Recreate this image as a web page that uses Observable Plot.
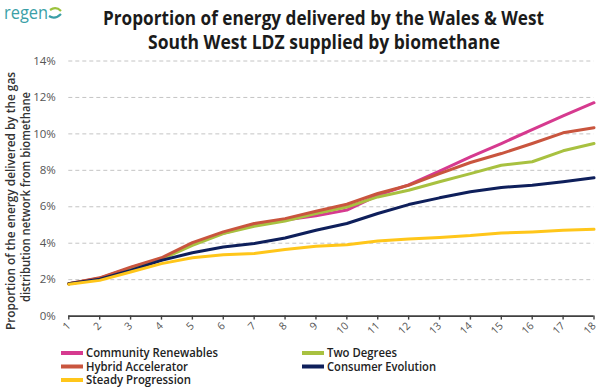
<!DOCTYPE html>
<html>
<head>
<meta charset="utf-8">
<script src="https://cdn.jsdelivr.net/npm/d3@7"></script>
<script src="https://cdn.jsdelivr.net/npm/@observablehq/plot@0.6"></script>
<style>
  html, body { margin: 0; padding: 0; background: #fff; }
  #wrap { position: relative; width: 611px; height: 388px; overflow: hidden; font-family: "Open Sans", sans-serif; }
  #wrap > svg { position: absolute; left: 0; top: 0; }
</style>
</head>
<body>
<div id="wrap"></div>
<script>
// ---- data ----
const years = [1,2,3,4,5,6,7,8,9,10,11,12,13,14,15,16,17,18];
const yTicks = [0,2,4,6,8,10,12,14];
const seriesNames = ["Community Renewables","Hybrid Accelerator","Steady Progression","Two Degrees","Consumer Evolution"];
const seriesColors = ["#d63a8f","#c9553e","#ffc61a","#a8c140","#0e1f5b"];
const communityRenewables = [1.78,2.08,2.65,3.15,3.98,4.55,5.00,5.28,5.50,5.82,6.63,7.20,7.95,8.74,9.47,10.24,10.99,11.71];
const hybridAccelerator   = [1.78,2.10,2.69,3.20,4.03,4.62,5.08,5.35,5.75,6.14,6.73,7.18,7.82,8.43,8.92,9.47,10.06,10.34];
const steadyProgression   = [1.75,1.96,2.42,2.88,3.20,3.37,3.43,3.66,3.83,3.92,4.12,4.23,4.32,4.42,4.56,4.62,4.71,4.76];
const twoDegrees          = [1.78,2.07,2.62,3.12,3.88,4.53,4.93,5.22,5.63,5.99,6.54,6.91,7.37,7.82,8.28,8.47,9.07,9.47];
const consumerEvolution   = [1.78,2.03,2.51,3.06,3.48,3.79,3.98,4.29,4.71,5.08,5.63,6.12,6.49,6.82,7.06,7.18,7.37,7.59];
const titleLines = ["Proportion of energy delivered by the Wales & West","South West LDZ supplied by biomethane"];
const yLabelLines = ["Proportion of the energy delivered by the gas","distribution network from biomethane"];

const seriesValues = [communityRenewables, hybridAccelerator, steadyProgression, twoDegrees, consumerEvolution];
const rows = (k) => seriesValues[k].map((v, i) => ({x: years[i], y: v, s: seriesNames[k]}));
const drawOrder = [0, 3, 1, 4, 2];

const chart = Plot.plot({
  width: 611,
  height: 388,
  marginTop: 60.5,
  marginBottom: 72.4,
  marginLeft: 68.3,
  marginRight: 17.5,
  style: {fontFamily: "'Open Sans', sans-serif", background: "transparent"},
  x: {domain: [1, 18], ticks: years},
  y: {domain: [0, 14], ticks: yTicks},
  marks: [
    Plot.gridY(yTicks.filter(d => d > 0), {stroke: "#c4c4c4", strokeOpacity: 1, strokeDasharray: "4,3", strokeWidth: 1}),
    Plot.axisY({ticks: yTicks, tickSize: 0, tickPadding: 13, tickFormat: d => d + "%", label: null, fontSize: 11.5, fill: "#555"}),
    Plot.ruleY([0], {stroke: "#404040", strokeWidth: 1.6}),
    Plot.axisX({ticks: years, tickSize: 4, tickRotate: -45, tickPadding: 4, tickFormat: d => String(d), label: null, fontSize: 10.5, fill: "#555", stroke: "#404040", strokeWidth: 1.4}),
    ...drawOrder.map(k => Plot.line(rows(k), {x: "x", y: "y", stroke: seriesColors[k], strokeWidth: 3, strokeLinejoin: "round", strokeLinecap: "round"}))
  ]
});
const wrap = document.getElementById("wrap");
wrap.appendChild(chart);

// ---- overlay: title, logo, y label, legend ----
const svg = d3.select(wrap).append("svg").attr("width", 611).attr("height", 388)
  .style("font-family", "'Open Sans', sans-serif").style("pointer-events", "none");

// logo
svg.append("text").attr("x", 4).attr("y", 19).attr("font-size", 18).attr("font-weight", 400)
  .attr("fill", "#3b9fa7").attr("textLength", 44).attr("lengthAdjust", "spacingAndGlyphs").text("regen");
svg.append("path").attr("d", "M50,10 q6,-4 11,1").attr("fill", "none").attr("stroke", "#9bc23c").attr("stroke-width", 2.2);
svg.append("path").attr("d", "M49,16 q6,4 12,-2").attr("fill", "none").attr("stroke", "#3b9fa7").attr("stroke-width", 2.2);

// title
const titlePos = [{x: 103, y: 25, w: 441}, {x: 148, y: 49, w: 352}];
titleLines.forEach((t, i) => {
  svg.append("text").attr("x", titlePos[i].x).attr("y", titlePos[i].y)
    .attr("font-size", 19).attr("font-weight", 700).attr("fill", "#1b1b1b")
    .attr("textLength", titlePos[i].w).attr("lengthAdjust", "spacingAndGlyphs").text(t);
});

// y label
const yLabPos = [{x: 14.5, c: 201, w: 258}, {x: 29.5, c: 197, w: 210}];
yLabelLines.forEach((t, i) => {
  svg.append("text").attr("transform", `translate(${yLabPos[i].x},${yLabPos[i].c}) rotate(-90)`)
    .attr("text-anchor", "middle").attr("font-size", 12.5).attr("font-weight", 600).attr("fill", "#333")
    .attr("textLength", yLabPos[i].w).attr("lengthAdjust", "spacingAndGlyphs").text(t);
});

// legend
const legendPos = [
  {x: 61, y: 353, w: 132}, // Community Renewables
  {x: 61, y: 366.5, w: 102}, // Hybrid Accelerator
  {x: 61, y: 380, w: 105}, // Steady Progression
  {x: 302, y: 353, w: 70}, // Two Degrees
  {x: 302, y: 366.5, w: 109} // Consumer Evolution
];
seriesNames.forEach((name, k) => {
  const p = legendPos[k];
  svg.append("line").attr("x1", p.x).attr("x2", p.x + 22).attr("y1", p.y).attr("y2", p.y)
    .attr("stroke", seriesColors[k]).attr("stroke-width", 4);
  svg.append("text").attr("x", p.x + 25).attr("y", p.y + 4.3)
    .attr("font-size", 12).attr("font-weight", 600).attr("fill", "#222")
    .attr("textLength", p.w).attr("lengthAdjust", "spacingAndGlyphs").text(name);
});
</script>
</body>
</html>
